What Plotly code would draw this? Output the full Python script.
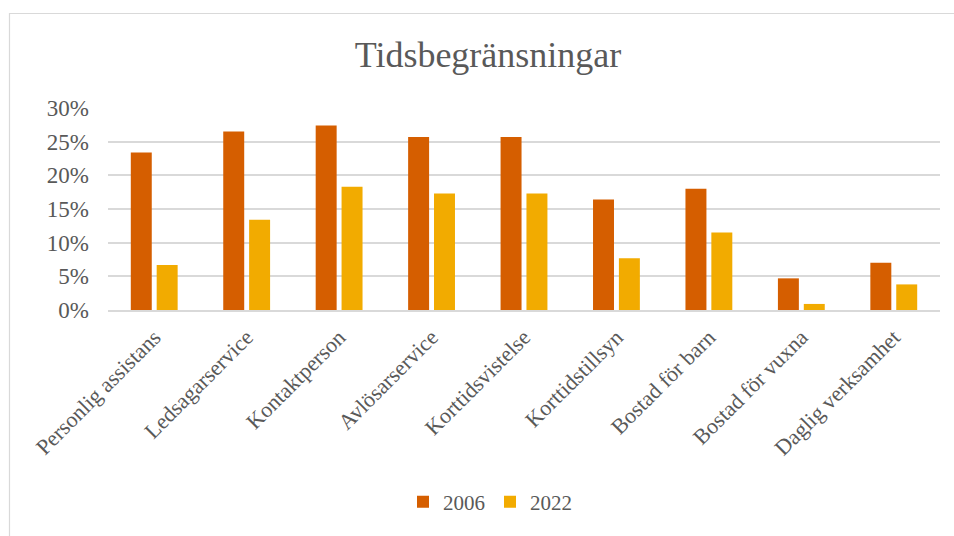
import plotly.graph_objects as go

categories = ["Personlig assistans", "Ledsagarservice", "Kontaktperson", "Avlösarservice",
              "Korttidsvistelse", "Korttidstillsyn", "Bostad för barn", "Bostad för vuxna",
              "Daglig verksamhet"]
values_2006 = [0.234, 0.265, 0.274, 0.257, 0.257, 0.164, 0.180, 0.047, 0.070]
values_2022 = [0.067, 0.134, 0.183, 0.173, 0.173, 0.077, 0.115, 0.009, 0.038]
series_names = ["2006", "2022"]
y_ticks = [0, 0.05, 0.10, 0.15, 0.20, 0.25, 0.30]

FONT = "Liberation Serif"
GRAY = "#595959"

fig = go.Figure()
fig.add_trace(go.Bar(x=categories, y=values_2006, name=series_names[0],
                     marker=dict(color="#D55E00", line=dict(width=0))))
fig.add_trace(go.Bar(x=categories, y=values_2022, name=series_names[1],
                     marker=dict(color="#F2AB00", line=dict(width=0))))

W, H = 954, 536
L, R, T, B = 108, 14, 108, 226
pw, ph = W - L - R, H - T - B

def px_x(p):
    return (p - L) / pw

def px_y(p):
    return (H - B - p) / ph

fig.update_layout(
    width=W, height=H,
    margin=dict(l=L, r=R, t=T, b=B, autoexpand=False),
    paper_bgcolor="white", plot_bgcolor="white",
    font=dict(family=FONT, color=GRAY),
    title=dict(text="Tidsbegränsningar", x=488 / W, xanchor="center",
               y=1 - 54 / H, yanchor="middle", yref="container",
               font=dict(family=FONT, size=36, color=GRAY)),
    barmode="group", bargap=0.44, bargroupgap=0.19,
    showlegend=True,
    legend=dict(orientation="h", x=px_x(490), xanchor="center",
                y=px_y(502), yanchor="middle",
                font=dict(family=FONT, size=21, color=GRAY),
                itemwidth=30, tracegroupgap=0),
    shapes=[dict(type="rect", xref="paper", yref="paper",
                 x0=px_x(9.5), x1=px_x(960), y0=px_y(13.5), y1=px_y(560),
                 line=dict(color="#d9d9d9", width=1.2), fillcolor="rgba(0,0,0,0)",
                 layer="below")],
)

fig.update_yaxes(range=[0, 0.30], tickvals=y_ticks, tickformat=".0%",
                 showgrid=True, gridcolor="#d9d9d9", gridwidth=1.5,
                 zeroline=False, showline=False,
                 tickfont=dict(family=FONT, size=23, color=GRAY),
                 ticklabelstandoff=18)
fig.update_xaxes(tickangle=-45, showline=True, linecolor="#d9d9d9", linewidth=1.5,
                 tickfont=dict(family=FONT, size=22, color=GRAY),
                 ticks="", showgrid=False, ticklabelstandoff=4)

fig.write_html("out.html", config={"displayModeBar": False},
               post_script="document.body.style.margin='0';")
